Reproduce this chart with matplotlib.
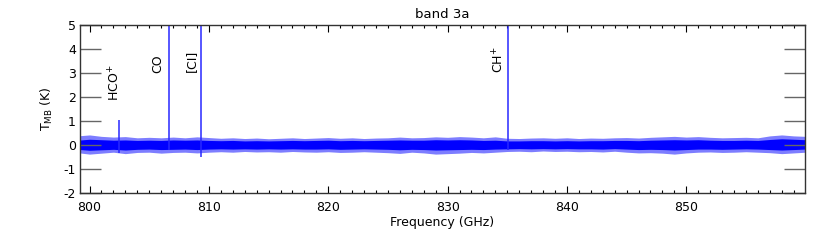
import numpy as np
import matplotlib.pyplot as plt
from matplotlib.ticker import MultipleLocator

# noise envelope of the spectrum, read per GHz from 799 to 860
env_freq = np.arange(799, 861)
outer_hi = [0.38, 0.42, 0.36, 0.33, 0.35, 0.30, 0.32, 0.30, 0.33, 0.30,
            0.34, 0.31, 0.28, 0.30, 0.27, 0.29, 0.26, 0.28, 0.30, 0.27,
            0.29, 0.31, 0.28, 0.30, 0.27, 0.29, 0.30, 0.33, 0.30, 0.31,
            0.34, 0.32, 0.35, 0.33, 0.30, 0.34, 0.28, 0.27, 0.29, 0.30,
            0.28, 0.30, 0.27, 0.29, 0.28, 0.30, 0.31, 0.29, 0.32, 0.34,
            0.36, 0.33, 0.35, 0.32, 0.30, 0.31, 0.32, 0.30, 0.38, 0.42,
            0.38, 0.36]
outer_lo = [-0.32, -0.38, -0.34, -0.30, -0.36, -0.31, -0.30, -0.34, -0.31, -0.30,
            -0.33, -0.30, -0.28, -0.30, -0.27, -0.29, -0.28, -0.30, -0.27, -0.29,
            -0.30, -0.28, -0.31, -0.30, -0.28, -0.30, -0.32, -0.35, -0.30, -0.33,
            -0.38, -0.36, -0.34, -0.31, -0.33, -0.30, -0.27, -0.26, -0.28, -0.25,
            -0.27, -0.26, -0.28, -0.27, -0.29, -0.26, -0.30, -0.33, -0.32, -0.34,
            -0.38, -0.33, -0.30, -0.29, -0.31, -0.30, -0.28, -0.30, -0.32, -0.36,
            -0.33, -0.30]
core_hi = [0.20, 0.24, 0.22, 0.20, 0.21, 0.19, 0.20, 0.19, 0.21, 0.20,
           0.21, 0.19, 0.18, 0.19, 0.17, 0.18, 0.17, 0.18, 0.19, 0.18,
           0.19, 0.20, 0.18, 0.19, 0.18, 0.19, 0.20, 0.21, 0.20, 0.20,
           0.22, 0.21, 0.22, 0.21, 0.19, 0.20, 0.17, 0.17, 0.18, 0.18,
           0.17, 0.18, 0.17, 0.18, 0.18, 0.19, 0.19, 0.18, 0.20, 0.21,
           0.22, 0.21, 0.22, 0.20, 0.19, 0.19, 0.20, 0.19, 0.23, 0.26,
           0.24, 0.22]
core_lo = [-0.18, -0.22, -0.20, -0.18, -0.21, -0.18, -0.17, -0.19, -0.18, -0.17,
           -0.19, -0.17, -0.16, -0.17, -0.16, -0.17, -0.16, -0.17, -0.16, -0.17,
           -0.17, -0.16, -0.18, -0.17, -0.16, -0.17, -0.18, -0.20, -0.18, -0.19,
           -0.21, -0.20, -0.19, -0.18, -0.19, -0.17, -0.16, -0.15, -0.16, -0.15,
           -0.16, -0.15, -0.16, -0.16, -0.17, -0.15, -0.17, -0.19, -0.18, -0.19,
           -0.21, -0.19, -0.17, -0.17, -0.18, -0.17, -0.16, -0.17, -0.19, -0.21,
           -0.19, -0.17]

# spectral lines
line_names = ["HCO$^{+}$", "CO", "[CI]", "CH$^{+}$"]
line_freq = [802.46, 806.65, 809.34, 835.10]
line_peak = [1.05, 12.0, 9.0, 8.0]
line_dip = [-0.32, -0.2, -0.52, -0.2]
label_y = [2.6, 3.4, 3.5, 3.55]
label_dx = [-0.3, 0.35, 0.22, 0.15]

plt.rcParams['font.family'] = 'DejaVu Sans'
plt.rcParams['font.size'] = 9
plt.rcParams['axes.unicode_minus'] = False

fig = plt.figure(figsize=(8.3, 2.44), dpi=100)
ax = fig.add_axes([0.0964, 0.209, 0.8735, 0.6885])

ax.fill_between(env_freq, outer_lo, outer_hi, color="#4646ff", lw=0, alpha=0.7)
ax.fill_between(env_freq, core_lo, core_hi, color="#0000ff", lw=0)
ax.vlines(line_freq, line_dip, line_peak, color="#2828ff", lw=1.1)

for name, f, y, dx in zip(line_names, line_freq, label_y, label_dx):
    ax.text(f - dx, y, name, rotation=90, ha="right", va="center", fontsize=9)

ax.set_xlim(799.2, 859.95)
ax.set_ylim(-2, 5)
ax.xaxis.set_major_locator(MultipleLocator(10))
ax.xaxis.set_minor_locator(MultipleLocator(1))
ax.yaxis.set_major_locator(MultipleLocator(1))
ax.tick_params(axis="x", which="major", direction="in", top=True, length=5, width=0.8, pad=6)
ax.tick_params(axis="x", which="minor", direction="in", top=True, length=2.5, width=0.8)
ax.tick_params(axis="y", which="major", direction="in", right=True, length=15, width=1.0,
               color="#666666", pad=3)
for s in ax.spines.values():
    s.set_linewidth(1.0)
    s.set_color("#333333")

ax.set_title("band 3a", fontsize=9.5, pad=5)
ax.set_xlabel("Frequency (GHz)", fontsize=9, labelpad=1)
ax.set_ylabel("T$_{\\mathregular{MB}}$ (K)", fontsize=9, labelpad=6)

fig.savefig("out.png", dpi=100)
